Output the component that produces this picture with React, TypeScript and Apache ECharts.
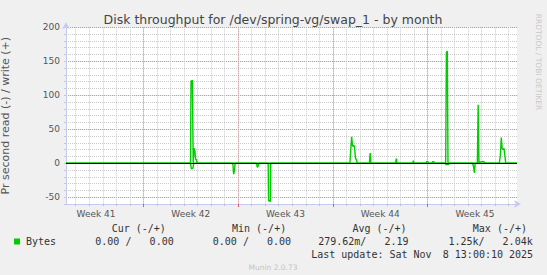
import React, { useEffect, useRef } from "react";
import * as echarts from "echarts";

// ---- data (x = days since the left edge of the month graph) ----
const chartTitle = "Disk throughput for /dev/spring-vg/swap_1 - by month";
const yAxisTitle = "Pr second read (-) / write (+)";
const sideText = "RRDTOOL / TOBI OETIKER";
const footerText = "Munin 2.0.73";

const weekLabels = ["Week 41", "Week 42", "Week 43", "Week 44", "Week 45"];
const weekLabelDays = [2.22, 9.22, 16.22, 23.22, 30.22];
const yLabelValues = [-50, 0, 50, 100, 150, 200];

// write (+)
const writeData: [number, number][] = [
  [0, 0],
  [9.2, 0], [9.24, 121], [9.34, 122], [9.4, 0], [9.46, 22], [9.52, 19], [9.58, 6], [9.64, 5], [9.7, 0],
  [20.98, 0], [21.05, 22], [21.11, 39], [21.18, 25], [21.26, 26], [21.32, 25], [21.39, 8], [21.46, 5], [21.53, 0],
  [22.42, 0], [22.48, 15], [22.54, 0],
  [24.35, 0], [24.41, 7], [24.47, 0],
  [25.62, 0], [25.67, 4], [25.72, 0],
  [26.6, 0], [26.66, 2.5], [26.74, 2.5], [26.8, 0],
  [27.04, 0], [27.1, 2.5], [27.18, 2.5], [27.24, 0],
  [27.7, 0], [27.75, 1], [27.8, 0],
  [28.06, 0], [28.11, 163], [28.18, 165], [28.23, 0],
  [30.4, 0], [30.46, 86], [30.52, 0], [30.6, 2], [30.7, 2], [30.8, 3], [30.9, 2], [30.98, 0],
  [32.02, 0], [32.1, 12], [32.17, 38], [32.23, 22], [32.3, 20], [32.37, 22], [32.44, 10], [32.5, 0],
  [33.33, 0],
];

// read (-), plotted below zero
const readData: [number, number][] = [
  [0, 0],
  [9.2, 0], [9.26, -8], [9.38, -7], [9.44, 0],
  [12.33, 0], [12.39, -16], [12.45, -11], [12.5, 0],
  [14.08, 0], [14.14, -6], [14.2, -4], [14.25, 0],
  [14.94, 0], [14.97, -55], [15.1, -56], [15.13, 0],
  [28.04, 0], [28.08, -2], [28.26, -2], [28.31, 0],
  [30.05, 0], [30.12, -5], [30.18, -14], [30.24, 0],
  [33.33, 0],
];

const legendName = "Bytes";
const legendHeaders = ["Cur (-/+)", "Min (-/+)", "Avg (-/+)", "Max (-/+)"];
const legendReadValues = ["0.00 /", "0.00 /", "279.62m/", "1.25k/"];
const legendWriteValues = ["0.00", "0.00", "2.19", "2.04k"];
const lastUpdateLeft = "Last update: Sat Nov";
const lastUpdateRight = "8 13:00:10 2025";

// ---- styling ----
const SANS = '"DejaVu Sans", sans-serif';
const MONO = '"DejaVu Sans Mono", monospace';
const GREEN = "#00cc00";
const AXIS = "#c6caf2";
const GRID_MINOR = "#cacaca";
const GRID_MAJOR = "#ee8a8a";

const PLOT_TOP = 27.3;
const PLOT_H = 176.8;
const PX_PER_UNIT = PLOT_H / 260;

const headerX = [111.7, 232, 352.4, 472.8];
const readRightX = [131.4, 248.9, 366.4, 484.5];
const writeRightX = [173.7, 291.0, 408.5, 532.7];

export default function App() {
  const ref = useRef<HTMLDivElement | null>(null);

  useEffect(() => {
    if (!ref.current) return;
    const chart = echarts.init(ref.current, undefined, { renderer: "svg" });

    const txt = (x: number, y: number, text: string, extra: any = {}) => ({
      type: "text",
      x,
      y,
      silent: true,
      style: {
        text,
        fill: "#333",
        fontSize: 10,
        fontFamily: MONO,
        align: "left",
        verticalAlign: "middle",
        ...extra,
      },
    });

    const graphics: any[] = [
      txt(273, 19.5, chartTitle, { fontSize: 12.5, fontFamily: SANS, fill: "#444", align: "center" }),
      {
        type: "text",
        x: 538,
        y: 62,
        rotation: -Math.PI / 2,
        silent: true,
        style: {
          text: sideText,
          fill: "#c8c8c8",
          fontSize: 7.5,
          fontFamily: SANS,
          align: "center",
          verticalAlign: "middle",
        },
      },
      { type: "rect", shape: { x: 14, y: 238.5, width: 6, height: 6 }, style: { fill: GREEN }, silent: true },
      txt(26, 241.9, legendName),
      txt(311.2, 254, lastUpdateLeft),
      txt(533.1, 254, lastUpdateRight, { align: "right" }),
      txt(273, 267, footerText, { fontSize: 7.5, fontFamily: SANS, fill: "#c4c4c4", align: "center" }),
    ];
    legendHeaders.forEach((h, i) => graphics.push(txt(headerX[i], 228.6, h)));
    legendReadValues.forEach((v, i) => graphics.push(txt(readRightX[i], 241.9, v, { align: "right" })));
    legendWriteValues.forEach((v, i) => graphics.push(txt(writeRightX[i], 241.9, v, { align: "right" })));

    const hiddenLine = { show: false, onZero: false };

    const option: any = {
      animation: false,
      backgroundColor: "#f0f0f0",
      grid: [
        // 0: data + minor horizontal lines (every 10)
        { left: 66, top: PLOT_TOP, width: 451, height: PLOT_H, show: true, backgroundColor: "#ffffff", borderWidth: 0, outerBoundsMode: "none", containLabel: false },
        // 1: minor vertical lines (every day)
        { left: 75.74, top: PLOT_TOP, width: 432.96, height: PLOT_H, show: false, outerBoundsMode: "none", containLabel: false },
        // 2: major horizontal lines (every 50), from -50 to 200
        { left: 66, top: PLOT_TOP, width: 451, height: 250 * PX_PER_UNIT, show: false, outerBoundsMode: "none", containLabel: false },
        // 3: major vertical lines (week boundaries)
        { left: 143.4, top: PLOT_TOP, width: 284.13, height: PLOT_H, show: false, outerBoundsMode: "none", containLabel: false },
      ],
      xAxis: [
        {
          type: "value",
          gridIndex: 0,
          min: 0,
          max: 33.33,
          axisLine: {
            show: true,
            onZero: false,
            lineStyle: { color: AXIS, width: 1 },
            symbol: ["none", "arrow"],
            symbolSize: [6, 7],
            symbolOffset: [0, 4],
          },
          axisTick: { show: false },
          splitLine: { show: false },
          axisLabel: {
            show: true,
            customValues: weekLabelDays,
            hideOverlap: false,
            margin: 5,
            color: "#555",
            fontSize: 9,
            fontFamily: SANS,
            formatter: (v: number) => {
              const i = weekLabelDays.findIndex((d) => Math.abs(d - v) < 0.01);
              return i >= 0 ? weekLabels[i] : "";
            },
          },
        },
        {
          type: "value",
          gridIndex: 1,
          min: 0,
          max: 32,
          interval: 1,
          axisLine: hiddenLine,
          axisLabel: { show: false },
          axisTick: { show: true, length: 2, lineStyle: { color: "#c0c0c0" } },
          splitLine: { show: true, lineStyle: { color: GRID_MINOR, type: [1, 1], width: 1 } },
        },
        {
          type: "value",
          gridIndex: 2,
          min: 0,
          max: 1,
          show: false,
          axisLine: hiddenLine,
        },
        {
          type: "value",
          gridIndex: 3,
          min: 0,
          max: 21,
          interval: 7,
          axisLine: hiddenLine,
          axisLabel: { show: false },
          axisTick: { show: true, length: 3, lineStyle: { color: "#e06060" } },
          splitLine: { show: true, lineStyle: { color: GRID_MAJOR, type: [1, 1], width: 1 } },
        },
      ],
      yAxis: [
        {
          type: "value",
          gridIndex: 0,
          min: -60,
          max: 200,
          interval: 10,
          name: yAxisTitle,
          nameLocation: "middle",
          nameRotate: 90,
          nameGap: 55,
          nameTextStyle: { color: "#555", fontSize: 11, fontFamily: SANS },
          axisLine: {
            show: true,
            onZero: false,
            lineStyle: { color: AXIS, width: 1 },
            symbol: ["none", "arrow"],
            symbolSize: [6, 7],
            symbolOffset: [0, 5],
          },
          axisTick: { show: true, length: 2, lineStyle: { color: "#c8c8c8" } },
          splitLine: { show: true, lineStyle: { color: GRID_MINOR, type: [1, 1], width: 1 } },
          axisLabel: {
            show: true,
            margin: 6,
            color: "#555",
            fontSize: 9,
            fontFamily: SANS,
            formatter: (v: number) => (yLabelValues.includes(v) ? String(v) : ""),
          },
        },
        { type: "value", gridIndex: 1, min: -60, max: 200, show: false },
        {
          type: "value",
          gridIndex: 2,
          min: -50,
          max: 200,
          interval: 50,
          axisLine: hiddenLine,
          axisLabel: { show: false },
          axisTick: { show: false },
          splitLine: { show: true, lineStyle: { color: GRID_MAJOR, type: [1, 1], width: 1 } },
        },
        { type: "value", gridIndex: 3, min: -60, max: 200, show: false },
      ],
      series: [
        {
          name: "write",
          type: "line",
          xAxisIndex: 0,
          yAxisIndex: 0,
          data: writeData,
          symbol: "none",
          showSymbol: false,
          lineStyle: { color: GREEN, width: 1.4 },
          itemStyle: { color: GREEN },
          z: 2,
          markLine: {
            silent: true,
            symbol: "none",
            label: { show: false },
            lineStyle: { color: "#000", type: "solid", width: 1 },
            data: [{ yAxis: 0 }],
            z: 5,
          },
        },
        {
          name: "read",
          type: "line",
          xAxisIndex: 0,
          yAxisIndex: 0,
          data: readData,
          symbol: "none",
          showSymbol: false,
          lineStyle: { color: GREEN, width: 1.4 },
          itemStyle: { color: GREEN },
          z: 2,
        },
      ],
      graphic: graphics,
    };

    chart.setOption(option);
    return () => chart.dispose();
  }, []);

  return (
    <div
      ref={ref}
      style={{ position: "fixed", left: 0, top: 0, width: 547, height: 275 }}
    />
  );
}
